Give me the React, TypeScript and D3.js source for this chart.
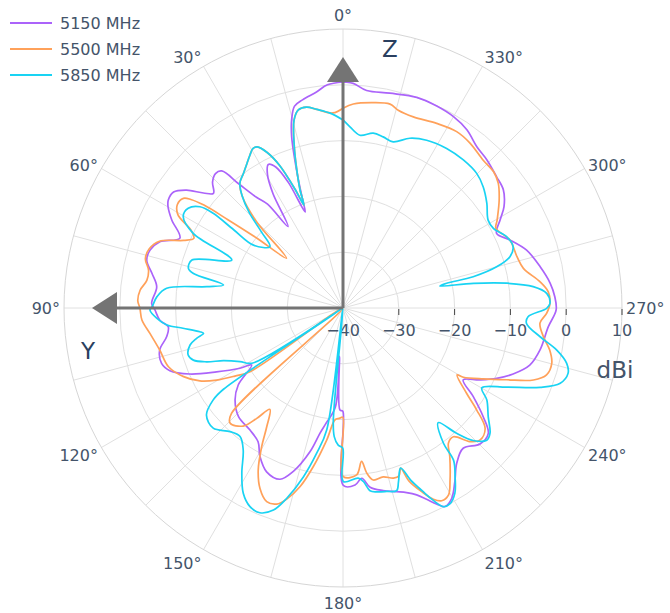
import React, { useRef, useEffect } from "react";
import * as d3 from "d3";

// legend names and Plotly default colours for the three traces
const freqs = ["5150 MHz", "5500 MHz", "5850 MHz"];
const colors = ["#ab63fa", "#FFA15A", "#19d3f3"];

// [theta in degrees (0 = up, counterclockwise), gain in dBi]
const pattern5150: [number, number][] = [
  [0, 0.5], [4, 0.1], [7, -1.0], [11, -2.0], [13.5, -2.8], [15.3, -5.1], [16.7, -8.0], [18, -12],
  [19.2, -15.7], [20.5, -19.4], [21.5, -21.5], [23.5, -15.5], [25.5, -12], [27.5, -11], [29.5, -12.5],
  [31.5, -16], [34, -22.4], [36, -17], [38, -14.8], [40, -11], [41.5, -7.2], [43.5, -6.8], [46, -7.5],
  [48.5, -9], [50.5, -7.6], [53, -4.9], [55.6, -3.2], [58.3, -3.2], [60, -3.8], [62.8, -5.5],
  [66.8, -8.2], [70.1, -5.1], [73.3, -3.9], [76.3, -3.8], [79.7, -5.2], [83.5, -6.4], [88.6, -5.7],
  [90.6, -6.3], [93.8, -7.1], [96.1, -8.5], [99.2, -8.0], [102.9, -6.3], [107, -6.0], [109.9, -7.0],
  [113.3, -10.1], [116.8, -14.6], [120.3, -18.6], [122, -20.7], [126.3, -16.7], [130.4, -14.6],
  [136.1, -13.0], [142.7, -12.5], [147.6, -11.6], [150.8, -9.5], [155, -7.6], [159.8, -7.3],
  [163.1, -9.4], [167.1, -13.6], [169.6, -17.2], [171.5, -19], [175.6, -22.2], [175.8, -31.3],
  [178.3, -21.7], [179.9, -21.5], [180.1, -8.2], [183.9, -8.2], [186.3, -9.3], [188.6, -7.5],
  [192.4, -6.5], [196.3, -5.7], [199, -5.0], [201.5, -4.0], [203.6, -2.6], [205.5, -1.1], [207.2, 0.0],
  [209.7, -0.7], [212.8, -3.0], [216.2, -5.5], [220.6, -6.9], [225.2, -5.4], [229.2, -5.6],
  [232.2, -8.2], [235.8, -11.8], [239.1, -14.9], [242.3, -12.3], [245.4, -9.7], [248.8, -7.3],
  [253, -5.0], [258, -3.9], [264.8, -3.05], [269.5, -1.8], [273.1, -2.0], [276.8, -2.6], [281.8, -3.9],
  [287.5, -5.5], [292.2, -7.7], [295.9, -9.4], [299.3, -7.7], [302.2, -5.9], [306.4, -4.3],
  [310.5, -3.8], [315.8, -3.0], [320.3, -2.45], [325.2, -1.1], [330, -0.4], [335.1, -0.1],
  [340.7, 0.0], [347.7, -0.6], [353.8, -0.8], [357.4, 0.3], [360, 0.5],
];

const pattern5500: [number, number][] = [
  [0, -4.2], [3, -5.0], [7.5, -4.1], [10.3, -3.4], [12.7, -3.6], [14.6, -5.2], [16.8, -9.8],
  [18.5, -13.9], [20, -17.5], [20.8, -20.3], [22, -17], [24, -12], [26, -9], [28, -7.3], [29.5, -7.2],
  [31.5, -8], [33.6, -8.9], [36.5, -10], [39.6, -11], [42, -13], [45, -18], [48.6, -26.5], [51, -20],
  [52.5, -14], [53.5, -9], [54.5, -6.5], [55.5, -5.3], [58, -5.0], [60.5, -6], [63, -9.5], [65, -10.5],
  [67, -9], [70, -5], [73, -3.7], [76, -3.5], [79, -4.5], [82, -4.5], [85, -3.5], [88, -3.2], [90, -3.6],
  [93.4, -3.9], [97.5, -5.1], [102.9, -6.3], [108.6, -7.0], [113.3, -8.9], [117, -11.2],
  [119.7, -13.9], [122.2, -17.1], [124.4, -19.8], [128, -40], [133.4, -12.5], [135.6, -11.1],
  [139.8, -12.3], [142, -14.9], [144.2, -17.6], [147.3, -14.7], [149.6, -11.2], [152.4, -7.2],
  [155.3, -4.4], [158.5, -2.7], [161.3, -2.9], [163.6, -4.3], [166.5, -7.1], [169.4, -11.1],
  [173, -16.2], [175.9, -19.9], [178.1, -20.2], [179.9, -20.4], [180.1, -9.8], [184.7, -10],
  [186.9, -12.3], [188.2, -10.1], [190, -8.7], [193.4, -8.9], [196.5, -8.2], [198.5, -8.3],
  [199.8, -9.5], [200.9, -6.8], [203.2, -4.2], [205.3, -2.1], [207.1, -1.2], [209.4, -1.5],
  [211.9, -3.7], [215.7, -7.2], [218, -9.3], [220.6, -9.6], [223.5, -7.0], [226.1, -5.9],
  [229.7, -6.6], [232.7, -9.9], [235.4, -13.1], [239.6, -16.3], [240.1, -15.1], [243.2, -11.8],
  [246.3, -8.0], [249.3, -3.5], [251.8, -1.6], [255.2, -1.3], [258.5, -2.2], [261.8, -3.7],
  [265.6, -4.6], [268.5, -3.5], [271.3, -2.9], [274.5, -3.1], [277.6, -4.4], [282.4, -6.9],
  [286.5, -7.5], [292.2, -7.7], [297.5, -9.1], [299.7, -8.2], [304.6, -6.0], [308.8, -4.3],
  [312.2, -3.6], [316.5, -3.5], [322.4, -2.7], [327.2, -2.4], [333.1, -2.9], [339.8, -3.5],
  [344.4, -3.2], [347, -2.5], [351.6, -2.8], [357.1, -3.4], [360, -4.2],
];

const pattern5850: [number, number][] = [
  [0, -6.3], [3.8, -5.0], [7.5, -4.1], [10.3, -3.4], [12.7, -3.6], [14.6, -5.2], [16.8, -9.8],
  [18.5, -13.9], [20, -17.5], [20.8, -20.3], [22, -17], [24, -12], [26, -9], [28, -7.3], [29.5, -7.2],
  [31.5, -8], [33.6, -8.9], [36.5, -10], [39.6, -11], [42, -13], [44.5, -16], [47, -20], [50, -22.9],
  [54.9, -20.4], [54.4, -15.9], [53.9, -11.2], [54.7, -8.6], [57.2, -7.0], [60.2, -7.0], [63.5, -10.0],
  [66.7, -18.3], [72.4, -11.6], [75.6, -11.4], [77, -12.5], [79.1, -18.2], [81.1, -15.3], [83.6, -8.2],
  [86.5, -6.6], [89.6, -5.8], [90.6, -5.4], [93.2, -6.6], [95.5, -8.3], [97.2, -11.1], [99.4, -14.0],
  [100.3, -14.6], [101.7, -13.2], [103.6, -11.8], [106.9, -11.0], [109.2, -11.6], [111.5, -13.7],
  [113.8, -16.6], [117.5, -19.2], [121.2, -20.9], [122.8, -40], [124.2, -14.1], [125.3, -11.5],
  [128.1, -8.9], [132.8, -8.3], [137.6, -10.0], [141.3, -10.5], [144.9, -8.9], [148.5, -5.3],
  [151.7, -2.3], [154.9, -0.7], [157.9, -0.4], [161, -1.7], [163.5, -4.4], [166.8, -8.9],
  [169.7, -13.5], [172.4, -18], [173.5, -40], [175.1, -19.6], [176.1, -16.9], [178, -15.4],
  [179.9, -14.9], [180.1, -8.9], [185.1, -9.4], [186.7, -8.7], [188.4, -6.9], [190.4, -6.5],
  [193.4, -6.2], [196.4, -5.9], [197.7, -7.3], [199.8, -9.5], [201.5, -6.8], [203.5, -4.2], [205, -2.1],
  [206.8, -0.1], [208.6, 0.0], [211.1, -1.2], [213.6, -3.7], [216, -6.3], [216.6, -9.8], [219.7, -13.3],
  [222.2, -9.7], [224.5, -6.7], [227.4, -5.0], [229.6, -5.4], [233.2, -7.5], [237.4, -9.4],
  [240.1, -11.3], [244.2, -7.4], [248.1, -1.9], [250.9, 1.2], [253.8, 2.0], [256.1, 1.3], [258.9, -1.0],
  [261.7, -4.3], [265.2, -7.0], [267.3, -6.8], [269.9, -3.5], [271.3, -2.9], [274.1, -3.4],
  [276.4, -5.7], [278.6, -10.3], [280.7, -16.2], [282.8, -22.2], [283.4, -20.9], [283.5, -16],
  [285, -11.5], [287.1, -8.7], [289.8, -7.6], [293.5, -8.0], [297.9, -9.5], [301.2, -9.6],
  [306.1, -8.1], [310.8, -6.8], [315.2, -6.0], [320.9, -5.8], [327, -5.9], [333.5, -6.4],
  [338.5, -7.3], [343.2, -8.9], [346.8, -8.5], [350.2, -8.2], [354.4, -8.9], [357.8, -7.5], [360, -6.3],
];

const patterns = [pattern5150, pattern5500, pattern5850];

const radialTicks = [-40, -30, -20, -10, 0, 10];
const angleTicks = [0, 30, 60, 90, 120, 150, 180, 210, 240, 270, 300, 330];

const App = () => {
  const svgRef = useRef<SVGSVGElement>(null);

  useEffect(() => {
    const svg = d3.select(svgRef.current);
    svg.selectAll("*").remove();

    const cx = 343;
    const cy = 308;
    const R = 279;
    const textColor = "#44546a";
    const gridColor = "#e0e0e0";

    const r = d3.scaleLinear().domain([-40, 10]).range([0, R]).clamp(true);
    const rad = (deg: number) => (deg * Math.PI) / 180;

    const g = svg.append("g").attr("transform", `translate(${cx},${cy})`);

    // angular grid every 15 degrees
    g.selectAll(".spoke")
      .data(d3.range(0, 360, 15))
      .join("line")
      .attr("x1", 0)
      .attr("y1", 0)
      .attr("x2", (d) => -R * Math.sin(rad(d)))
      .attr("y2", (d) => -R * Math.cos(rad(d)))
      .attr("stroke", gridColor)
      .attr("stroke-width", 1);

    // radial grid circles
    g.selectAll(".ring")
      .data(radialTicks.slice(1))
      .join("circle")
      .attr("r", (d) => r(d))
      .attr("fill", "none")
      .attr("stroke", (d) => (d === 10 ? "#d6d6d6" : gridColor))
      .attr("stroke-width", 1);

    // angular tick labels
    angleTicks.forEach((a) => {
      const dx = -Math.sin(rad(a));
      const dy = -Math.cos(rad(a));
      const px = (R + 4) * dx;
      const py = (R + 4) * dy;
      const anchor = Math.abs(dx) < 0.1 ? "middle" : dx > 0 ? "start" : "end";
      const off = dy > 0 ? dy * 12 : -10 * dy * dy * dy * dy;
      g.append("text")
        .attr("x", px)
        .attr("y", py + off)
        .attr("text-anchor", anchor)
        .attr("dominant-baseline", "central")
        .attr("fill", textColor)
        .attr("font-size", 16)
        .text(`${a}°`);
    });

    // radial axis ticks and labels along 270 deg (pointing right)
    radialTicks.forEach((t) => {
      if (t > -40) {
        g.append("line")
          .attr("x1", r(t))
          .attr("x2", r(t))
          .attr("y1", 1)
          .attr("y2", 7)
          .attr("stroke", "#444")
          .attr("stroke-width", 1);
      }
      g.append("text")
        .attr("x", r(t))
        .attr("y", 22)
        .attr("text-anchor", "middle")
        .attr("dominant-baseline", "central")
        .attr("fill", textColor)
        .attr("font-size", 16)
        .text(d3.format("")(t).replace("-", "\u2212"));
    });

    g.append("text")
      .attr("x", 272)
      .attr("y", 62)
      .attr("text-anchor", "middle")
      .attr("dominant-baseline", "central")
      .attr("fill", textColor)
      .attr("font-size", 23)
      .text("dBi");

    // traces
    const line = d3
      .lineRadial<[number, number]>()
      .angle((d) => -rad(d[0]))
      .radius((d) => r(d[1]))
      .curve(d3.curveCatmullRom.alpha(0.5));

    patterns.forEach((p, i) => {
      g.append("path")
        .attr("d", line(p))
        .attr("fill", "none")
        .attr("stroke", colors[i])
        .attr("stroke-width", 1.7)
        .attr("stroke-linejoin", "round");
    });

    // Z and Y arrows
    const arrowColor = "#747474";
    g.append("line").attr("x1", 0).attr("y1", 0).attr("x2", 0).attr("y2", -226)
      .attr("stroke", arrowColor).attr("stroke-width", 3);
    g.append("path").attr("d", "M0,-251L-16,-226L16,-226Z").attr("fill", arrowColor);
    g.append("line").attr("x1", 0).attr("y1", 0).attr("x2", -226).attr("y2", 0)
      .attr("stroke", arrowColor).attr("stroke-width", 3);
    g.append("path").attr("d", "M-251,0L-226,-16L-226,16Z").attr("fill", arrowColor);

    g.append("text").attr("x", 47).attr("y", -259).attr("text-anchor", "middle")
      .attr("dominant-baseline", "central").attr("fill", "#2a3f5f").attr("font-size", 23).text("Z");
    g.append("text").attr("x", -255).attr("y", 43).attr("text-anchor", "middle")
      .attr("dominant-baseline", "central").attr("fill", "#2a3f5f").attr("font-size", 23).text("Y");

    // legend
    const legend = svg.append("g");
    freqs.forEach((f, i) => {
      const y = 23 + i * 26;
      legend.append("line").attr("x1", 10).attr("x2", 52).attr("y1", y).attr("y2", y)
        .attr("stroke", colors[i]).attr("stroke-width", 2);
      legend.append("text").attr("x", 60).attr("y", y).attr("dominant-baseline", "central")
        .attr("fill", textColor).attr("font-size", 16).text(f);
    });
  }, []);

  return (
    <svg
      ref={svgRef}
      width={670}
      height={613}
      style={{
        position: "absolute",
        left: 0,
        top: 0,
        background: "#fff",
        fontFamily: "'DejaVu Sans', Verdana, sans-serif",
      }}
    />
  );
};

export default App;
